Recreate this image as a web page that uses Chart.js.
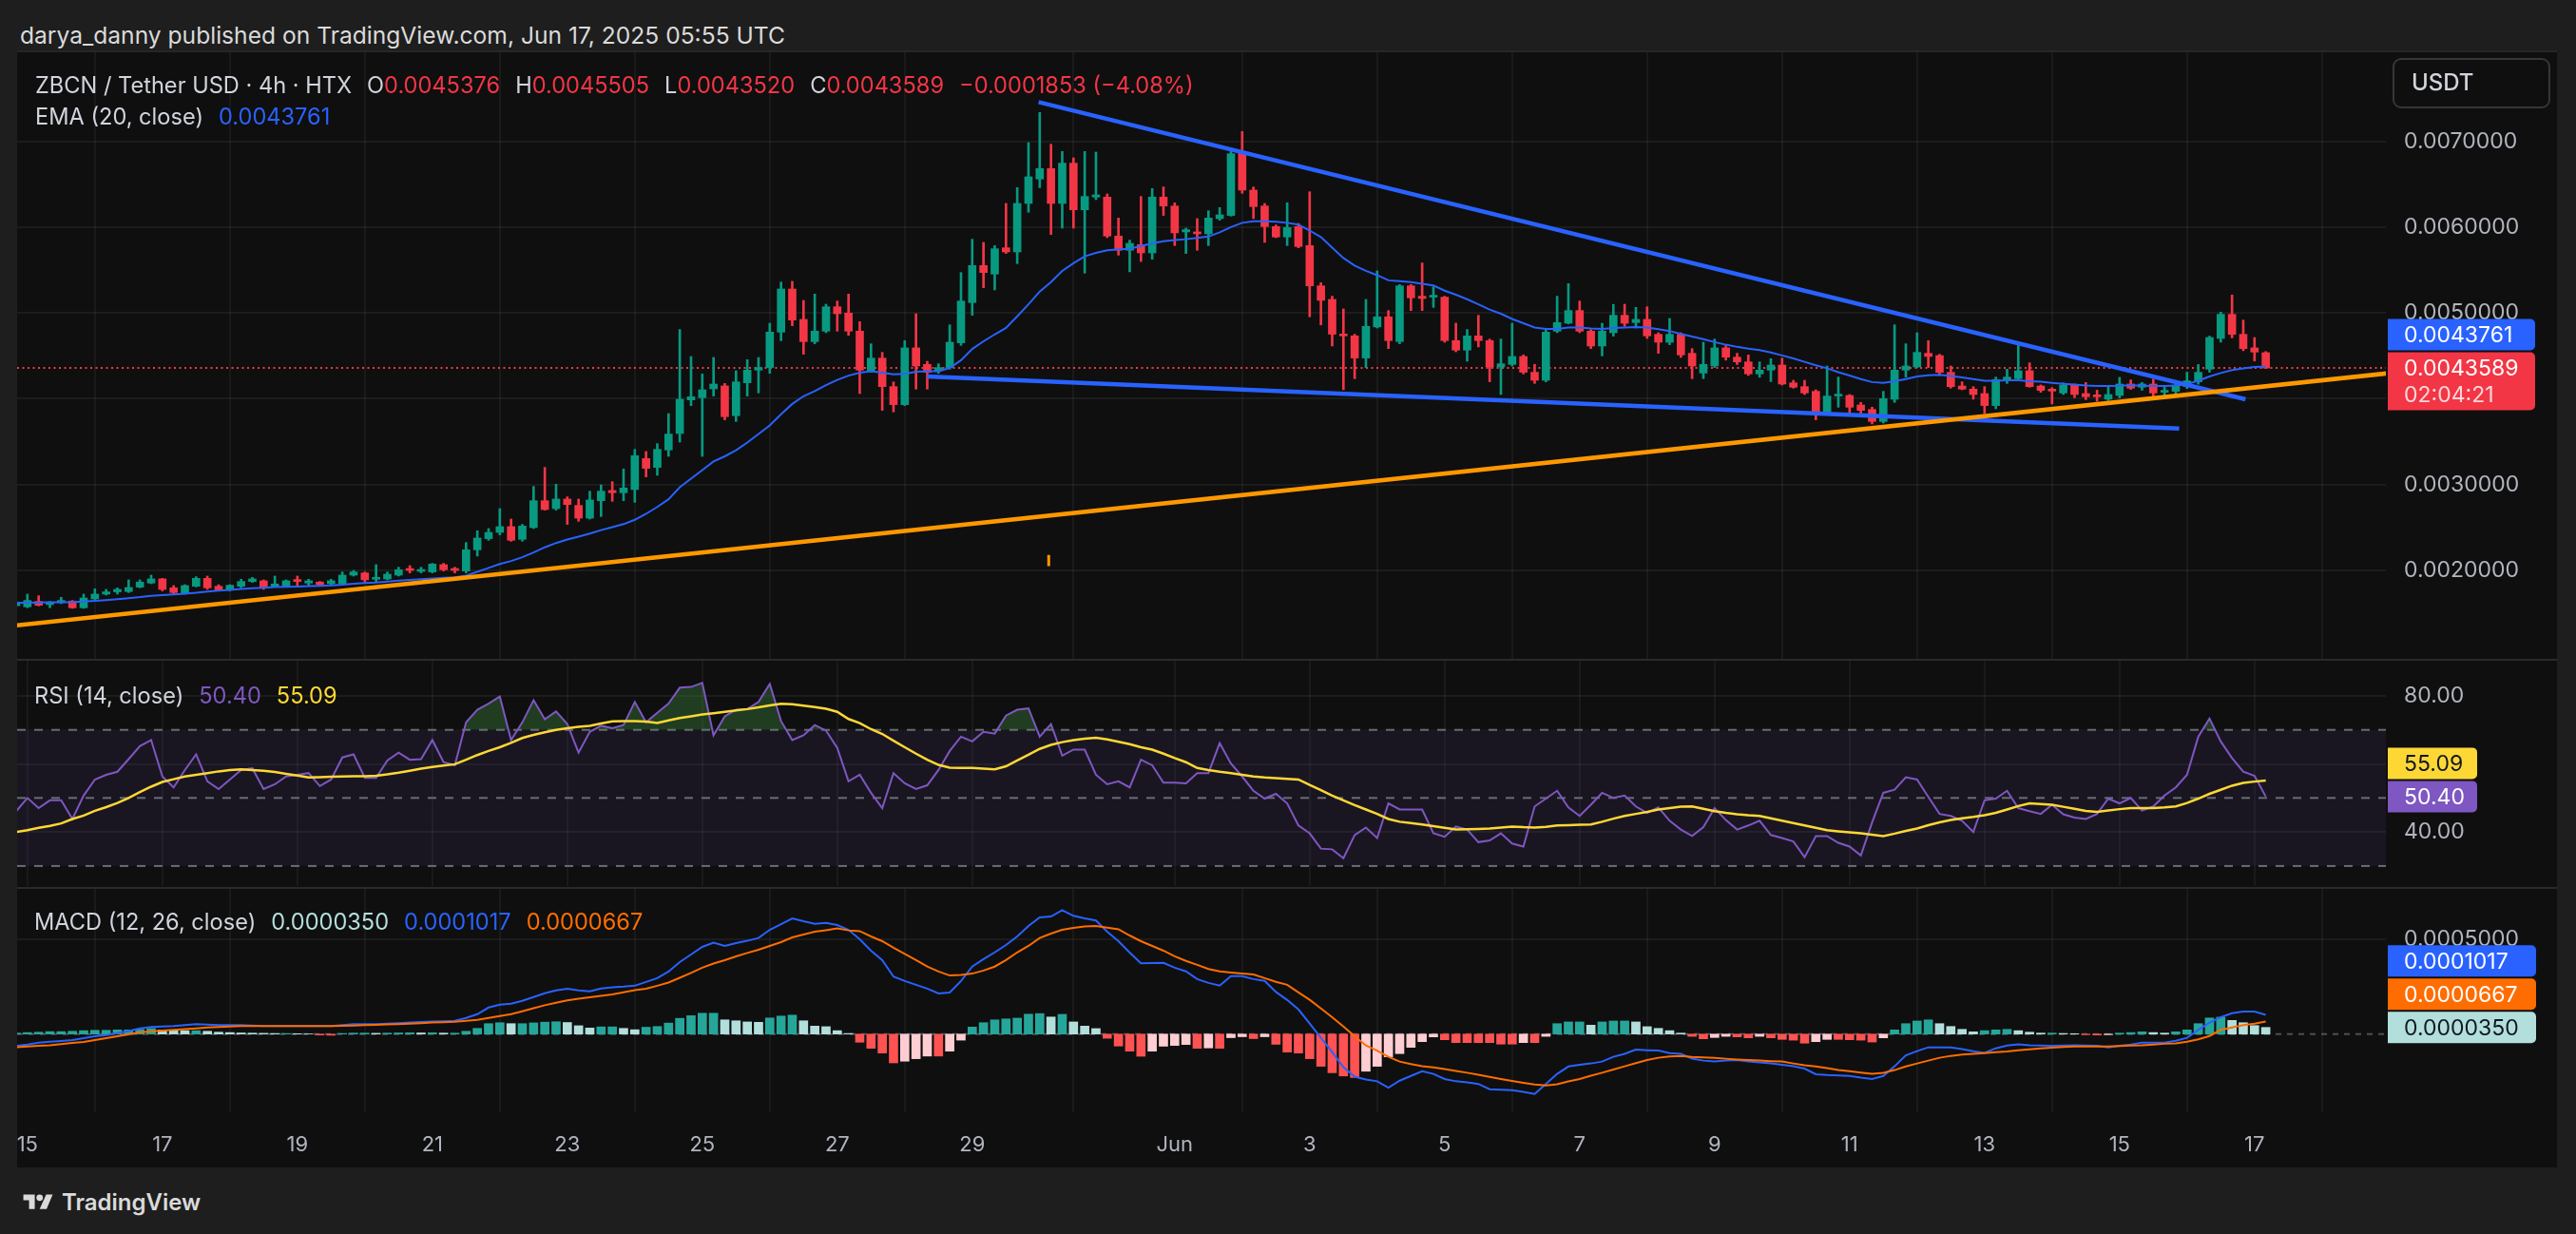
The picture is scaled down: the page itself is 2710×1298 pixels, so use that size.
<!DOCTYPE html>
<html>
<head>
<meta charset="utf-8">
<title>ZBCN / Tether USD · 4h · HTX</title>
<script src="https://cdn.jsdelivr.net/npm/chart.js@4.4.1/dist/chart.umd.min.js"></script>
<style>
  html, body { margin: 0; padding: 0; width: 2710px; height: 1298px; overflow: hidden; background: #1e1e1e;
    font-family: Inter, "Noto Sans", sans-serif; }
  #frame { position: absolute; left: 18px; top: 53px; width: 2672px; height: 1175px; background: #0f0f0f;
    border-top: 2px solid #262626; box-sizing: border-box; }
  canvas { position: absolute; left: 18px; }
  .sep { position: absolute; left: 18px; width: 2672px; height: 2px; background: #2a2a2a; }
  .txt { position: absolute; white-space: pre; font-size: 23.6px; line-height: 24px; color: #d1d4dc; }
  .g { margin-left: 16px; }
</style>
</head>
<body>
<div id="frame"></div>
<canvas id="main" width="2672" height="638" style="top:55px"></canvas>
<div class="sep" style="top:693px"></div>
<canvas id="rsi" width="2672" height="237" style="top:695px"></canvas>
<div class="sep" style="top:933px"></div>
<canvas id="macd" width="2672" height="293" style="top:935px"></canvas>

<div class="txt" style="left:21px;top:25px;font-size:24.6px;color:#dadada">darya_danny published on TradingView.com, Jun 17, 2025 05:55 UTC</div>
<div class="txt" id="legendMain" style="left:37px;top:78px"></div>
<div class="txt" id="legendEma" style="left:37px;top:111px"></div>
<div class="txt" id="legendRsi" style="left:36px;top:720px"></div>
<div class="txt" id="legendMacd" style="left:36px;top:958px"></div>

<div style="position:absolute;left:21px;top:1253px;display:flex;align-items:center;">
  <svg width="38" height="24" viewBox="0 0 36 28"><path d="M14 22H7V11H0V4h14v18z" fill="#dadada"/><circle cx="20" cy="8" r="4" fill="#dadada"/><path d="M28 4h8l-7.5 18H20l8-18z" fill="#dadada"/></svg>
  <span style="margin-left:6px;font-size:24px;font-weight:600;color:#dadada;line-height:24px">TradingView</span>
</div>

<script>
// 4h candles from May 14 20:00 (index 0) to Jun 17 04:00 (index 200)
// prices and MACD values are in units of 0.0001 USDT
const U = 1e-4;

const openP = [
15.90,15.77,16.40,16.03,16.25,16.44,15.66,16.69,17.25,17.51,
17.55,18.06,18.54,19.02,17.98,17.32,18.16,19.09,18.16,17.73,
18.16,18.72,18.80,18.16,18.16,18.91,18.54,18.65,18.46,18.46,
19.46,19.72,18.98,19.02,19.46,20.20,19.90,19.83,20.68,20.20,
19.94,22.41,23.71,24.44,25.11,23.63,25.00,28.13,27.21,28.32,
27.58,26.10,28.13,29.32,29.06,29.43,33.04,32.01,34.04,35.96,
39.87,40.13,41.16,41.50,38.03,41.86,43.34,43.64,47.77,52.79,
49.25,46.66,47.88,50.72,49.99,47.88,43.27,44.74,41.42,39.32,
45.93,44.01,43.27,43.64,46.52,51.21,55.52,54.53,57.59,57.11,
62.76,65.60,66.82,62.76,67.45,62.02,63.50,63.50,58.96,57.30,
57.96,57.00,63.50,62.46,59.44,59.44,59.22,60.99,61.36,68.74,
64.31,62.46,60.06,58.85,60.06,57.85,53.16,51.58,47.52,47.33,
44.75,48.37,49.55,46.67,53.16,51.95,51.84,51.84,46.78,45.67,
47.33,46.78,43.71,44.01,44.93,43.09,42.16,47.88,48.81,50.28,
47.88,46.15,47.70,49.73,48.88,49.25,47.51,46.59,47.51,45.30,
43.00,43.82,45.93,44.85,44.30,42.90,43.34,43.93,41.86,41.42,
40.87,38.47,40.32,40.39,39.28,38.76,37.36,39.95,43.34,43.71,
45.30,45.04,43.08,41.49,41.13,40.61,39.21,42.16,42.35,43.27,
41.49,41.13,40.68,41.61,40.61,40.39,39.95,40.39,41.72,41.35,
41.72,40.76,40.87,41.42,41.98,43.45,47.03,49.84,47.51,45.93,
45.376];

const highP = [
16.40,17.25,17.06,16.40,16.88,16.51,17.25,17.87,17.80,17.98,
18.91,18.91,19.46,19.09,18.24,18.35,19.28,19.35,18.35,18.35,
18.98,19.20,18.91,19.35,18.91,19.35,18.98,18.72,18.98,19.83,
20.01,19.83,20.68,19.83,20.38,20.57,20.38,20.83,20.83,20.38,
23.26,24.63,24.89,27.21,25.99,25.37,29.80,32.01,30.05,28.58,
28.32,29.24,29.98,30.35,31.83,34.11,33.86,34.78,38.28,48.07,
44.93,42.90,44.82,41.79,43.27,44.56,44.82,48.80,53.60,53.68,
51.46,52.20,51.02,51.39,52.20,48.99,46.41,45.41,41.97,46.77,
49.91,44.37,44.08,48.62,54.71,58.59,58.22,57.85,62.76,64.60,
69.85,73.35,69.66,68.81,68.07,68.81,68.74,63.87,61.06,58.48,
63.57,64.49,64.68,62.83,59.88,60.99,61.91,62.28,69.18,71.14,
64.68,62.76,60.25,62.83,60.43,64.12,53.53,51.95,50.47,47.52,
51.58,54.90,50.28,53.31,53.31,55.82,53.05,51.95,48.81,48.07,
49.73,46.96,46.96,48.81,45.12,44.01,48.07,51.95,53.42,51.39,
48.07,48.80,51.00,51.02,50.65,50.72,47.70,49.36,47.70,45.85,
46.59,46.96,46.20,45.30,45.11,44.30,44.67,44.74,42.16,42.16,
41.05,43.82,42.53,40.50,39.58,39.02,40.87,48.62,46.41,47.70,
46.78,45.19,43.82,41.98,41.42,41.42,42.53,43.45,46.22,44.19,
41.61,41.30,41.86,41.72,41.90,41.00,41.40,42.50,42.20,41.90,
42.30,41.40,41.90,43.10,44.00,47.30,50.10,52.10,49.17,47.14,
45.505];

const lowP = [
15.80,15.66,15.88,15.66,16.14,15.59,15.59,16.62,17.14,17.25,
17.43,17.98,18.46,17.62,17.25,17.25,18.09,17.80,17.62,17.62,
17.98,18.61,17.80,18.09,18.09,18.24,18.24,18.24,18.35,18.35,
19.35,18.65,18.72,18.91,19.35,19.72,19.72,19.72,19.94,19.72,
19.72,21.68,23.52,24.15,23.41,23.41,24.89,27.03,27.03,25.37,
25.73,25.99,26.29,28.06,28.13,27.95,30.90,31.09,33.30,34.96,
39.21,33.30,40.32,37.55,37.36,40.32,40.68,42.97,46.77,48.51,
45.19,46.41,47.70,47.88,47.40,40.61,43.08,38.65,38.47,39.21,
41.13,41.13,42.97,43.45,46.22,49.73,52.94,52.68,56.93,55.75,
61.73,64.60,59.14,59.88,59.88,54.64,63.20,58.77,56.74,54.79,
56.00,56.26,61.36,57.85,56.93,57.30,57.85,60.80,61.28,63.94,
60.99,58.22,58.77,57.85,57.59,49.55,48.62,46.15,41.06,42.35,
43.64,48.25,45.85,46.41,50.28,50.28,50.65,46.59,45.48,44.38,
46.04,41.98,40.50,43.82,42.90,41.79,41.98,47.70,48.73,47.70,
45.85,45.00,47.30,48.44,48.25,47.03,45.30,46.30,44.82,42.35,
42.35,43.64,44.50,44.00,42.72,42.50,42.00,41.61,41.24,40.50,
37.55,38.10,39.02,38.10,38.28,37.07,37.18,39.58,42.53,43.64,
43.64,42.72,41.24,41.05,39.95,38.28,38.84,41.79,42.16,41.35,
40.76,39.40,40.50,40.13,39.90,39.70,39.80,40.10,41.10,41.00,
40.10,40.30,40.20,41.20,41.70,43.10,46.60,47.10,45.60,44.40,
43.520];

const closeP = [
16.10,16.51,15.95,16.33,16.51,15.66,16.80,17.25,17.51,17.80,
18.02,18.65,19.02,17.80,17.43,18.24,19.09,17.98,17.73,18.28,
18.72,19.02,17.98,18.43,18.80,18.72,18.80,18.35,18.80,19.46,
19.83,18.91,19.09,19.57,20.09,20.01,20.09,20.75,20.09,20.01,
22.41,23.78,24.44,25.11,23.52,25.18,28.13,27.10,28.32,27.69,
26.10,28.21,29.24,29.06,29.61,33.38,31.90,34.11,35.89,39.95,
40.24,41.05,41.72,37.92,41.97,43.34,43.64,47.77,52.79,49.17,
46.66,47.88,50.72,49.91,47.88,43.34,44.74,41.42,39.32,45.93,
43.82,43.08,43.64,46.59,51.39,55.52,54.71,57.48,57.11,62.76,
65.86,66.82,62.76,67.45,62.02,63.57,63.75,58.96,57.30,58.11,
57.00,63.50,62.46,59.33,59.70,59.22,61.06,61.43,68.55,64.31,
62.39,60.06,58.85,59.95,57.74,53.16,51.47,47.52,47.33,44.75,
48.44,49.55,46.78,53.16,51.76,51.69,51.95,46.78,45.67,47.33,
46.78,43.71,44.08,44.93,43.09,42.16,47.77,48.88,50.28,47.88,
46.15,47.88,49.73,48.80,49.25,47.33,46.59,47.51,45.11,43.82,
44.01,45.93,44.85,44.30,42.90,43.34,43.93,41.72,41.35,40.68,
38.47,40.32,40.50,39.02,38.65,37.36,40.02,43.34,43.82,45.41,
44.93,43.08,41.42,41.13,40.50,39.21,42.24,42.53,43.27,41.42,
40.98,40.90,41.61,40.50,40.24,40.24,40.50,41.72,41.24,41.72,
40.68,40.98,41.61,42.09,43.08,47.14,49.84,47.51,45.85,45.442,
43.589];

const ema20 = [
16.24,16.25,16.27,16.29,16.31,16.33,16.38,16.47,16.56,16.66,
16.78,16.90,17.05,17.12,17.20,17.30,17.40,17.55,17.65,17.75,
17.85,17.92,18.00,18.06,18.10,18.14,18.18,18.22,18.27,18.35,
18.47,18.54,18.60,18.72,18.83,18.90,18.98,19.08,19.15,19.22,
19.40,19.85,20.30,20.75,21.10,21.55,22.10,22.70,23.20,23.60,
23.95,24.30,24.70,25.05,25.40,25.90,26.60,27.40,28.30,29.70,
30.70,31.70,32.70,33.30,34.00,34.90,35.90,36.90,38.20,39.40,
40.30,40.90,41.60,42.20,42.70,43.05,43.20,43.05,42.85,42.90,
43.15,43.20,43.20,43.60,44.50,45.80,46.70,47.50,48.25,49.60,
51.00,52.50,53.60,54.90,55.80,56.60,57.00,57.30,57.40,57.48,
57.80,58.10,58.35,58.50,58.59,58.75,58.90,59.40,60.00,60.50,
60.69,60.68,60.62,60.50,60.30,59.60,58.85,57.60,56.40,55.52,
54.90,54.40,53.80,53.70,53.60,53.40,53.20,52.60,52.13,51.60,
51.00,50.40,49.91,49.30,48.80,48.30,48.14,48.14,48.30,48.30,
48.20,48.14,48.25,48.30,48.36,48.30,48.10,47.90,47.55,47.25,
46.95,46.60,46.30,46.05,45.85,45.67,45.40,45.05,44.70,44.30,
43.90,43.56,43.10,42.71,42.30,41.95,41.86,42.05,42.30,42.60,
42.75,42.80,42.65,42.50,42.30,42.10,42.09,42.15,42.16,42.05,
41.98,41.85,41.75,41.65,41.55,41.50,41.50,41.52,41.57,41.52,
41.48,41.48,41.55,41.70,42.10,42.60,43.00,43.35,43.55,43.70,
43.761];

const rsi14 = [
46.1,50.0,47.0,49.3,49.3,43.8,50.7,55.4,56.8,57.7,
61.4,65.2,67.0,56.3,53.1,58.2,62.8,54.9,52.6,55.4,
58.2,58.7,52.6,54.0,56.3,56.8,57.3,53.5,55.4,61.9,
62.8,55.9,55.9,61.0,63.3,61.2,61.4,67.0,60.5,59.6,
72.2,75.9,77.7,79.8,67.0,72.2,78.7,73.1,75.4,71.7,
63.3,69.4,71.2,70.5,71.4,78.2,72.2,75.0,77.7,82.4,
82.6,83.8,68.4,74.0,75.9,76.1,78.2,83.5,72.6,67.0,
68.4,71.4,69.8,64.7,54.9,56.8,51.5,47.0,57.3,54.3,
52.6,53.7,58.2,63.8,68.0,66.6,69.4,68.9,74.2,75.9,
76.3,68.0,71.7,62.4,64.2,64.2,56.8,54.0,54.9,53.1,
61.2,59.6,54.5,54.5,54.3,57.3,57.3,66.1,60.1,56.3,
52.1,49.8,51.2,48.4,41.9,39.6,35.1,34.9,32.3,39.1,
41.3,38.2,48.4,46.6,46.6,46.6,39.6,38.6,41.6,40.7,
37.0,37.5,39.6,36.6,35.7,47.5,49.8,52.1,47.2,44.7,
48.0,51.5,50.0,50.7,47.5,45.6,47.2,43.3,40.7,38.8,
41.4,47.0,43.5,40.7,41.9,43.3,39.1,38.2,37.2,32.6,
38.8,38.8,36.8,35.7,33.1,42.8,51.5,52.4,56.1,55.4,
50.3,45.3,44.7,43.3,40.0,49.3,49.8,52.1,47.0,46.1,
45.3,48.0,45.2,44.2,43.8,45.3,49.8,48.4,50.0,46.3,
47.5,50.7,53.1,56.8,68.0,73.3,66.6,61.7,57.7,56.5,
50.40];

const rsiMa = [
40.0,40.5,41.2,41.8,42.5,43.8,44.8,46.2,47.3,48.5,
50.0,51.7,53.3,54.7,55.5,56.3,56.8,57.3,57.8,58.2,
58.4,58.2,58.0,57.6,57.1,56.6,56.0,56.1,56.2,56.3,
56.4,56.4,56.5,56.9,57.4,58.0,58.6,59.1,59.5,59.9,
61.2,62.6,63.8,64.9,66.2,67.6,68.5,69.3,70.0,70.5,
70.9,71.2,71.9,72.5,72.6,72.6,72.4,72.0,72.8,73.5,
74.0,74.5,74.9,75.3,75.7,76.1,76.6,77.2,77.7,77.5,
77.1,76.7,76.2,75.3,73.2,72.0,70.2,68.8,66.8,64.9,
63.0,61.2,59.7,58.9,58.8,58.8,58.6,58.4,59.3,61.0,
62.7,64.4,65.6,66.4,67.0,67.4,67.7,67.2,66.5,65.8,
64.9,64.2,63.0,61.7,60.5,58.8,58.2,57.7,57.3,56.8,
56.3,56.0,55.8,55.6,55.4,53.8,52.3,50.7,49.3,47.9,
46.6,45.3,43.8,43.0,42.6,42.2,41.7,41.2,40.7,40.8,
40.9,41.0,41.3,41.6,41.4,41.3,41.5,41.9,42.0,42.1,
42.2,43.0,43.9,44.7,45.3,45.9,46.6,47.0,47.4,47.5,
46.8,46.1,45.6,45.2,44.9,44.7,44.0,43.3,42.6,41.9,
41.2,40.5,40.2,39.9,39.6,39.2,38.8,39.5,40.3,41.0,
42.0,42.8,43.5,44.0,44.4,44.9,45.6,46.6,47.6,48.4,
48.2,48.0,47.4,46.8,46.2,45.9,46.3,46.7,47.0,47.0,
47.0,47.2,47.5,48.5,49.8,51.2,52.4,53.6,54.4,54.8,
55.09];

const macdLine = [
-0.62,-0.55,-0.45,-0.40,-0.36,-0.32,-0.22,-0.12,-0.05,0.05,
0.16,0.30,0.38,0.40,0.42,0.47,0.52,0.50,0.47,0.47,
0.47,0.45,0.43,0.42,0.42,0.42,0.42,0.42,0.42,0.47,
0.52,0.52,0.52,0.55,0.58,0.61,0.64,0.66,0.68,0.70,
0.85,1.05,1.40,1.55,1.60,1.75,1.95,2.15,2.30,2.39,
2.30,2.26,2.40,2.47,2.50,2.55,2.75,2.95,3.30,3.80,
4.20,4.60,4.82,4.65,4.80,4.92,5.07,5.50,5.80,6.10,
5.95,5.82,5.87,5.75,5.50,5.00,4.40,3.90,3.03,2.80,
2.60,2.40,2.14,2.19,2.80,3.56,3.95,4.31,4.70,5.15,
5.70,6.15,6.20,6.54,6.24,6.10,5.99,5.40,4.90,4.30,
3.73,3.75,3.76,3.50,3.31,2.90,2.70,2.56,3.06,3.06,
2.90,2.81,2.22,1.80,1.30,0.55,-0.20,-0.95,-1.75,-2.25,
-2.40,-2.49,-2.83,-2.46,-2.21,-1.96,-2.10,-2.37,-2.49,-2.55,
-2.63,-2.91,-2.93,-2.96,-3.05,-3.16,-2.63,-2.10,-1.71,-1.62,
-1.55,-1.45,-1.20,-1.04,-0.82,-0.85,-0.87,-1.00,-1.04,-1.29,
-1.40,-1.45,-1.40,-1.37,-1.45,-1.50,-1.54,-1.62,-1.70,-1.82,
-2.12,-2.16,-2.18,-2.21,-2.30,-2.37,-2.21,-1.70,-1.12,-0.90,
-0.70,-0.70,-0.70,-0.79,-0.90,-0.99,-0.75,-0.60,-0.54,-0.59,
-0.60,-0.62,-0.60,-0.59,-0.60,-0.62,-0.70,-0.62,-0.55,-0.45,
-0.45,-0.45,-0.35,-0.20,0.22,0.60,0.89,1.10,1.19,1.19,
1.017];

const macdSignal = [
-0.70,-0.66,-0.62,-0.59,-0.53,-0.47,-0.42,-0.32,-0.22,-0.12,
-0.02,0.10,0.14,0.18,0.22,0.26,0.30,0.35,0.38,0.40,
0.42,0.42,0.42,0.42,0.42,0.42,0.42,0.42,0.42,0.44,
0.45,0.47,0.49,0.51,0.53,0.55,0.58,0.61,0.63,0.65,
0.70,0.75,0.85,0.95,1.05,1.20,1.36,1.52,1.65,1.78,
1.86,1.94,2.02,2.09,2.20,2.32,2.39,2.55,2.72,2.97,
3.23,3.50,3.72,3.90,4.10,4.28,4.45,4.65,4.85,5.10,
5.25,5.40,5.48,5.57,5.47,5.43,5.15,4.90,4.55,4.23,
3.90,3.56,3.30,3.09,3.12,3.19,3.35,3.56,3.90,4.31,
4.65,5.07,5.30,5.50,5.60,5.68,5.70,5.62,5.53,5.20,
4.90,4.65,4.40,4.10,3.86,3.65,3.43,3.31,3.25,3.20,
3.14,2.95,2.76,2.60,2.20,1.81,1.35,0.89,0.40,-0.12,
-0.60,-0.87,-1.20,-1.45,-1.58,-1.70,-1.76,-1.85,-1.95,-2.04,
-2.15,-2.26,-2.37,-2.47,-2.57,-2.66,-2.71,-2.65,-2.50,-2.37,
-2.20,-2.04,-1.87,-1.70,-1.53,-1.37,-1.25,-1.18,-1.15,-1.20,
-1.23,-1.25,-1.30,-1.34,-1.37,-1.40,-1.43,-1.45,-1.55,-1.65,
-1.71,-1.80,-1.90,-1.96,-2.03,-2.09,-2.05,-1.90,-1.71,-1.55,
-1.40,-1.25,-1.15,-1.08,-1.04,-1.00,-0.96,-0.92,-0.86,-0.80,
-0.75,-0.72,-0.68,-0.65,-0.65,-0.65,-0.65,-0.63,-0.61,-0.59,
-0.55,-0.51,-0.49,-0.40,-0.28,-0.10,0.22,0.35,0.47,0.55,
0.667];

const macdHist = [
0.05,0.08,0.10,0.13,0.13,0.15,0.18,0.20,0.20,0.22,
0.22,0.25,0.30,0.22,0.20,0.18,0.18,0.15,0.10,0.08,
0.06,0.05,0.04,0.03,0.03,0.02,0.01,-0.05,-0.06,0.03,
0.05,0.05,0.04,0.05,0.06,0.07,0.06,0.07,0.05,0.05,
0.15,0.30,0.55,0.60,0.55,0.55,0.59,0.63,0.65,0.61,
0.44,0.32,0.38,0.38,0.30,0.23,0.36,0.40,0.58,0.83,
0.97,1.10,1.10,0.75,0.70,0.64,0.62,0.85,0.95,1.00,
0.70,0.42,0.39,0.18,0.03,-0.43,-0.75,-1.00,-1.52,-1.43,
-1.30,-1.16,-1.16,-0.90,-0.32,0.37,0.60,0.75,0.80,0.84,
1.05,1.08,0.90,1.04,0.64,0.42,0.29,-0.22,-0.63,-0.90,
-1.17,-0.90,-0.64,-0.60,-0.55,-0.75,-0.73,-0.75,-0.19,-0.14,
-0.24,-0.14,-0.54,-0.95,-1.00,-1.30,-1.70,-2.04,-2.21,-2.29,
-1.96,-1.70,-1.20,-1.03,-0.70,-0.40,-0.15,-0.30,-0.45,-0.45,
-0.45,-0.45,-0.53,-0.53,-0.45,-0.45,-0.12,0.55,0.64,0.64,
0.47,0.64,0.69,0.69,0.64,0.39,0.30,0.18,0.05,-0.12,
-0.25,-0.18,-0.12,-0.15,-0.20,-0.12,-0.20,-0.28,-0.32,-0.48,
-0.40,-0.28,-0.28,-0.30,-0.32,-0.42,-0.20,0.22,0.55,0.69,
0.75,0.55,0.40,0.25,0.12,0.18,0.22,0.25,0.18,0.10,
0.05,0.05,0.03,0.02,-0.03,-0.05,-0.03,0.05,0.08,0.12,
0.08,0.05,0.12,0.22,0.55,0.85,0.89,0.72,0.60,0.45,
0.35];

// day ticks on the time axis (candle index of 00:00 of that day)
const dayTicks  = [1, 13, 25, 37, 49, 61, 73, 85, 103, 115, 127, 139, 151, 163, 175, 187, 199];
const dayLabels = ['15','17','19','21','23','25','27','29','Jun','3','5','7','9','11','13','15','17'];

// drawn trend lines: candle index / price
const upperTrendX = [90.9, 198.2],  upperTrendY = [74.57, 39.94];
const lowerTrendX = [81.0, 192.3],  lowerTrendY = [42.60, 36.55];
const supportX    = [0, 210.7],     supportY    = [13.61, 42.95];
const anchorX     = [91.8, 91.8],   anchorY     = [21.8, 20.5];

const priceTicks = [0.002, 0.003, 0.004, 0.005, 0.006, 0.007];
const rsiTicks = [40, 60, 80];
const macdTicks = [0.0005];

// ---------------------------------------------------------------------
const FONT = 'Inter, "Noto Sans", sans-serif';
Chart.defaults.font.family = FONT;
Chart.defaults.animation = false;

const GREEN = '#089981', RED = '#f23645', BLUE = '#2962ff';
const last = closeP.length - 1;
const idx = closeP.map((_, i) => i);
const fmt7 = v => v.toFixed(7);
const candleColors = idx.map(i => closeP[i] >= openP[i] ? GREEN : RED);
const pts = (xs, ys, k) => xs.map((x, j) => ({x: x, y: ys[j] * k}));
const series = (arr, k) => arr.map((v, i) => ({x: i, y: v * k}));

function xScale(showLabels) {
  return {
    type: 'linear', min: 0.085, max: 210.68, offset: false,
    afterBuildTicks: s => { s.ticks = dayTicks.map(v => ({value: v})); },
    ticks: showLabels
      ? {color: '#b2b5be', font: {size: 22}, padding: 21, maxRotation: 0, autoSkip: false,
         callback: (v, k) => dayLabels[k]}
      : {display: false},
    grid: {color: 'rgba(242,242,242,0.05)', lineWidth: 2, drawTicks: false},
    border: {display: false},
    afterFit: s => { s.height = showLabels ? 58 : 0; s.paddingLeft = 0; s.paddingRight = 0; }
  };
}
function yScale(min, max, ticks, fmt) {
  return {
    position: 'right', min: min, max: max,
    afterBuildTicks: s => { s.ticks = ticks.map(v => ({value: v})); },
    ticks: {color: '#b2b5be', font: {size: 23}, padding: 19, callback: fmt},
    grid: {color: 'rgba(242,242,242,0.06)', lineWidth: 2, drawTicks: false},
    border: {display: false},
    afterFit: s => { s.width = 180; s.paddingTop = 0; s.paddingBottom = 0; }
  };
}
const baseOptions = (scales) => ({
  responsive: false, devicePixelRatio: 1, layout: {padding: 0},
  plugins: {legend: {display: false}, tooltip: {enabled: false}},
  events: [], scales: scales
});

// value tags on the right axis, stacked upward when they would overlap
function tagPlugin(tagsFn) {
  return {
    id: 'tags',
    afterDraw(chart) {
      const {ctx, chartArea, scales} = chart;
      const tags = tagsFn().map(t => Object.assign({cy: scales.y.getPixelForValue(t.value)}, t))
                           .sort((a, b) => b.cy - a.cy);
      let prevTop = Infinity;
      ctx.save();
      ctx.font = '23px ' + FONT;
      ctx.textBaseline = 'middle';
      ctx.textAlign = 'left';
      for (const t of tags) {
        const h = t.sub ? 61 : 33;
        let top = t.cy - 16.5;
        if (top + h > prevTop - 2) top = prevTop - 2 - h;
        ctx.fillStyle = t.bg;
        ctx.beginPath();
        ctx.roundRect(chartArea.right + 2, top, t.w, h, [0, 5, 5, 0]);
        ctx.fill();
        ctx.fillStyle = t.fg;
        ctx.fillText(t.text, chartArea.right + 19, top + 17.5);
        if (t.sub) {
          ctx.globalAlpha = 0.8;
          ctx.fillText(t.sub, chartArea.right + 19, top + 45);
          ctx.globalAlpha = 1;
        }
        prevTop = top;
      }
      ctx.restore();
    }
  };
}

// ---------------- main pane ----------------
const mainExtras = {
  id: 'mainExtras',
  beforeDatasetsDraw(chart) {
    const {ctx, chartArea, scales} = chart;
    const y = scales.y.getPixelForValue(closeP[last] * U);
    ctx.save();
    ctx.strokeStyle = RED; ctx.lineWidth = 2; ctx.setLineDash([2, 3.5]);
    ctx.beginPath(); ctx.moveTo(chartArea.left, y); ctx.lineTo(chartArea.right, y); ctx.stroke();
    ctx.restore();
  },
  afterDraw(chart) {
    const {ctx, chartArea} = chart;
    ctx.save();
    ctx.strokeStyle = '#363636'; ctx.lineWidth = 2; ctx.fillStyle = '#0f0f0f';
    ctx.beginPath(); ctx.roundRect(chartArea.right + 8, 7, 164, 51, 8); ctx.fill(); ctx.stroke();
    ctx.fillStyle = '#d1d4dc'; ctx.font = '500 24px ' + FONT; ctx.textBaseline = 'middle';
    ctx.fillText('USDT', chartArea.right + 27, 33);
    ctx.restore();
  }
};

new Chart(document.getElementById('main'), {
  type: 'bar',
  data: {datasets: [
    {type: 'line', data: pts(supportX, supportY, U), borderColor: '#ff9800', borderWidth: 4.5, pointRadius: 0, order: 0},
    {type: 'line', data: pts(upperTrendX, upperTrendY, U), borderColor: BLUE, borderWidth: 4.5, pointRadius: 0, order: 0},
    {type: 'line', data: pts(lowerTrendX, lowerTrendY, U), borderColor: BLUE, borderWidth: 4.5, pointRadius: 0, order: 0},
    {type: 'line', data: pts(anchorX, anchorY, U), borderColor: '#ff9800', borderWidth: 3, pointRadius: 0, order: 0},
    {type: 'line', data: series(ema20, U), borderColor: BLUE, borderWidth: 2, pointRadius: 0, order: 1},
    {type: 'bar', data: idx.map(i => ({x: i, y: [openP[i] * U, closeP[i] * U]})),
     backgroundColor: candleColors, barThickness: 8, minBarLength: 2, grouped: false, order: 2},
    {type: 'bar', data: idx.map(i => ({x: i, y: [lowP[i] * U, highP[i] * U]})),
     backgroundColor: candleColors, barThickness: 2, grouped: false, order: 3}
  ]},
  options: baseOptions({x: xScale(false), y: yScale(0.000971, 0.0080365, priceTicks, v => fmt7(v))}),
  plugins: [mainExtras, tagPlugin(() => [
    {value: ema20[last] * U, text: fmt7(ema20[last] * U), bg: BLUE, fg: '#ffffff', w: 155},
    {value: closeP[last] * U, text: fmt7(closeP[last] * U), sub: '02:04:21', bg: RED, fg: '#ffffff', w: 155}
  ])]
});

// ---------------- RSI pane ----------------
const rsiBands = {
  id: 'rsiBands',
  beforeDatasetsDraw(chart) {
    const {ctx, chartArea, scales} = chart;
    const y70 = scales.y.getPixelForValue(70), y30 = scales.y.getPixelForValue(30);
    ctx.save();
    ctx.fillStyle = 'rgba(126,87,194,0.1)';
    ctx.fillRect(chartArea.left, y70, chartArea.right - chartArea.left, y30 - y70);
    ctx.strokeStyle = 'rgba(120,123,134,0.85)'; ctx.lineWidth = 2; ctx.setLineDash([9, 9]);
    [70, 50, 30].forEach(v => {
      const y = scales.y.getPixelForValue(v);
      ctx.beginPath(); ctx.moveTo(chartArea.left, y); ctx.lineTo(chartArea.right, y); ctx.stroke();
    });
    ctx.restore();
  }
};

new Chart(document.getElementById('rsi'), {
  type: 'line',
  data: {datasets: [
    {data: series(rsiMa, 1), borderColor: '#fdd835', borderWidth: 2.5, pointRadius: 0, order: 0},
    {data: series(rsi14, 1), borderColor: '#7e57c2', borderWidth: 2, pointRadius: 0, order: 1,
     fill: {target: {value: 70}, above: 'rgba(67,160,71,0.32)', below: 'rgba(0,0,0,0)'}}
  ]},
  options: baseOptions({x: xScale(false), y: yScale(24.11, 90.31, rsiTicks, v => v.toFixed(2))}),
  plugins: [rsiBands, tagPlugin(() => [
    {value: rsiMa[last], text: rsiMa[last].toFixed(2), bg: '#fdd835', fg: '#131722', w: 94},
    {value: rsi14[last], text: rsi14[last].toFixed(2), bg: '#7e57c2', fg: '#ffffff', w: 94}
  ])]
});

// ---------------- MACD pane ----------------
const histColors = macdHist.map((v, i) => {
  const prev = i > 0 ? macdHist[i - 1] : v;
  if (v >= 0) return v >= prev ? '#26a69a' : '#b2dfdb';
  return v <= prev ? '#ff5252' : '#ffcdd2';
});
const zeroLine = {
  id: 'zeroLine',
  beforeDatasetsDraw(chart) {
    const {ctx, chartArea, scales} = chart;
    const y = scales.y.getPixelForValue(0);
    ctx.save();
    ctx.strokeStyle = 'rgba(120,123,134,0.6)'; ctx.lineWidth = 2; ctx.setLineDash([6, 6]);
    ctx.beginPath(); ctx.moveTo(chartArea.left, y); ctx.lineTo(chartArea.right, y); ctx.stroke();
    ctx.restore();
  }
};

new Chart(document.getElementById('macd'), {
  type: 'bar',
  data: {datasets: [
    {type: 'line', data: series(macdSignal, U), borderColor: '#ff6d00', borderWidth: 2, pointRadius: 0, order: 0},
    {type: 'line', data: series(macdLine, U), borderColor: BLUE, borderWidth: 2, pointRadius: 0, order: 1},
    {type: 'bar', data: series(macdHist, U), backgroundColor: histColors, barThickness: 9, grouped: false, order: 2}
  ]},
  options: baseOptions({x: xScale(true), y: yScale(-0.0004127, 0.0007658, macdTicks, v => fmt7(v))}),
  plugins: [zeroLine, tagPlugin(() => [
    {value: macdLine[last] * U, text: fmt7(macdLine[last] * U), bg: BLUE, fg: '#ffffff', w: 156},
    {value: macdSignal[last] * U, text: fmt7(macdSignal[last] * U), bg: '#ff6d00', fg: '#ffffff', w: 156},
    {value: macdHist[last] * U, text: fmt7(macdHist[last] * U), bg: '#b2dfdb', fg: '#131722', w: 156}
  ])]
});

// ---------------- legends ----------------
const change = (closeP[last] - closeP[last - 1]) * U;
const pct = change / (closeP[last - 1] * U) * 100;
const minus = s => s.replace('-', '\u2212');
const red = s => '<span style="color:' + RED + '">' + s + '</span>';
document.getElementById('legendMain').innerHTML =
  'ZBCN / Tether USD · 4h · HTX' +
  '<span class="g">O' + red(fmt7(openP[last] * U)) + '</span>' +
  '<span class="g">H' + red(fmt7(highP[last] * U)) + '</span>' +
  '<span class="g">L' + red(fmt7(lowP[last] * U)) + '</span>' +
  '<span class="g">C' + red(fmt7(closeP[last] * U)) + '</span>' +
  '<span class="g">' + red(minus(fmt7(change)) + ' (' + minus(pct.toFixed(2)) + '%)') + '</span>';
document.getElementById('legendEma').innerHTML =
  'EMA (20, close)<span class="g" style="color:' + BLUE + '">' + fmt7(ema20[last] * U) + '</span>';
document.getElementById('legendRsi').innerHTML =
  'RSI (14, close)<span class="g" style="color:#7e57c2">' + rsi14[last].toFixed(2) + '</span>' +
  '<span class="g" style="color:#fdd835">' + rsiMa[last].toFixed(2) + '</span>';
document.getElementById('legendMacd').innerHTML =
  'MACD (12, 26, close)<span class="g" style="color:#b2dfdb">' + fmt7(macdHist[last] * U) + '</span>' +
  '<span class="g" style="color:' + BLUE + '">' + fmt7(macdLine[last] * U) + '</span>' +
  '<span class="g" style="color:#ff6d00">' + fmt7(macdSignal[last] * U) + '</span>';
</script>
</body>
</html>
